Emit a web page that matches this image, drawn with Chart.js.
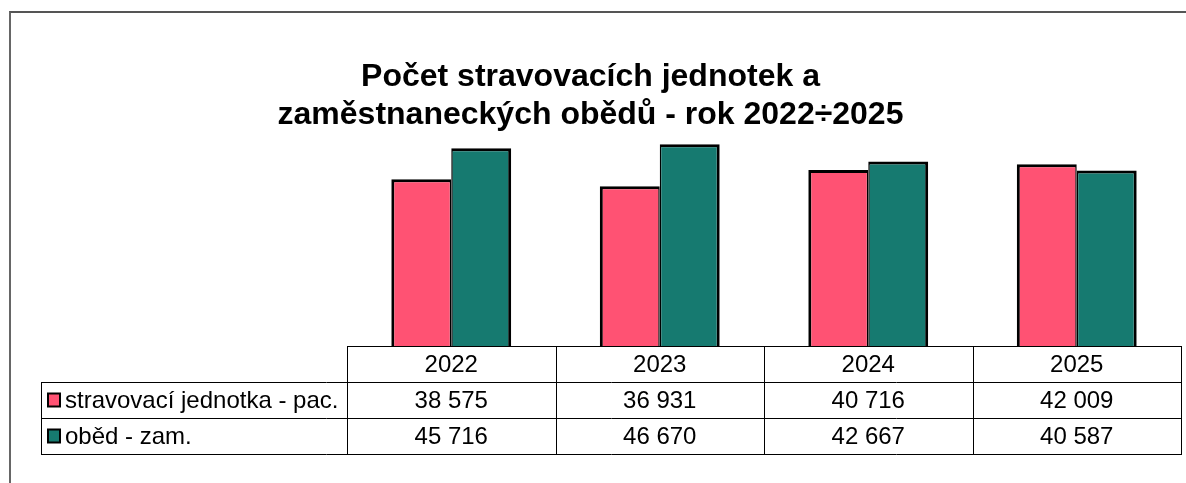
<!DOCTYPE html>
<html>
<head>
<meta charset="utf-8">
<script src="https://cdn.jsdelivr.net/npm/chart.js@4/dist/chart.umd.min.js"></script>
<style>
  html, body { margin: 0; padding: 0; overflow: hidden; background: #fff; width: 1186px; height: 483px; }
  #frame { position: absolute; left: 9px; top: 11px; width: 1300px; height: 600px;
           border-left: 2px solid #666; border-top: 2px solid #555; box-sizing: border-box; }
  #c { position: absolute; left: 0; top: 0; }
</style>
</head>
<body>
<div id="frame"></div>
<canvas id="c" width="1186" height="483"></canvas>
<script>
const categories = ['2022', '2023', '2024', '2025'];
const seriesNames = ['stravovací jednotka - pac.', 'oběd - zam.'];
const seriesPatients = [38575, 36931, 40716, 42009];
const seriesStaff = [45716, 46670, 42667, 40587];
const titleLines = ['Počet stravovacích jednotek a', 'zaměstnaneckých obědů - rok 2022÷2025'];
const colors = ['#FF5273', '#167A70'];

function fmt(v) {
  return String(v).replace(/\B(?=(\d{3})+(?!\d))/g, ' ');
}

const tablePlugin = {
  id: 'dataTable',
  afterDraw(chart) {
    const ctx = chart.ctx;
    const area = chart.chartArea;
    const xs = chart.scales.x;
    const n = categories.length;
    const colW = (area.right - area.left) / n;
    const rowH = 36;
    const legendLeft = 41;
    const top = Math.round(area.bottom);
    const L = Math.round(area.left) + 0.5;
    const R = Math.round(area.right) + 0.5;
    const datasets = [seriesPatients, seriesStaff];
    ctx.save();
    ctx.strokeStyle = '#000';
    ctx.lineWidth = 1;
    ctx.beginPath();
    ctx.moveTo(L, top + 0.5); ctx.lineTo(R, top + 0.5);
    for (let r = 1; r <= datasets.length + 1; r++) {
      const y = top + r * rowH + 0.5;
      ctx.moveTo(legendLeft + 0.5, y); ctx.lineTo(R, y);
    }
    for (let i = 0; i <= n; i++) {
      const x = Math.round(area.left + i * colW) + 0.5;
      ctx.moveTo(x, top); ctx.lineTo(x, top + (datasets.length + 1) * rowH + 1);
    }
    ctx.moveTo(legendLeft + 0.5, top + rowH); ctx.lineTo(legendLeft + 0.5, top + (datasets.length + 1) * rowH + 1);
    ctx.stroke();

    ctx.fillStyle = '#000';
    ctx.font = '24px "Liberation Sans", Arial, sans-serif';
    ctx.textAlign = 'center';
    ctx.textBaseline = 'middle';
    for (let i = 0; i < n; i++) {
      const cx = xs.getPixelForValue(i);
      ctx.fillText(categories[i], cx, top + rowH / 2 + 1);
      datasets.forEach((d, r) => {
        ctx.fillText(fmt(d[i]), cx, top + (r + 1) * rowH + rowH / 2 + 1);
      });
    }
    ctx.textAlign = 'left';
    seriesNames.forEach((name, r) => {
      const cy = top + (r + 1) * rowH + rowH / 2;
      ctx.fillStyle = colors[r];
      ctx.fillRect(48, cy - 6.5, 12, 13);
      ctx.strokeStyle = '#000';
      ctx.lineWidth = 2;
      ctx.strokeRect(48, cy - 6.5, 12, 13);
      ctx.fillStyle = '#000';
      ctx.fillText(name, 65, cy + 1);
    });
    ctx.restore();
  }
};

new Chart(document.getElementById('c'), {
  type: 'bar',
  data: {
    labels: categories,
    datasets: [
      { label: seriesNames[0], data: seriesPatients, backgroundColor: colors[0], borderColor: '#000',
        borderWidth: { left: 3, top: 3, right: 1.5, bottom: 0 } },
      { label: seriesNames[1], data: seriesStaff, backgroundColor: colors[1], borderColor: '#000',
        borderWidth: { left: 1.5, top: 3, right: 3, bottom: 0 } }
    ]
  },
  options: {
    responsive: false,
    animation: false,
    layout: { padding: { left: 0, right: 5, top: 0, bottom: 137 } },
    datasets: { bar: { categoryPercentage: 0.575, barPercentage: 1.0 } },
    scales: {
      x: { display: false, offset: true },
      y: {
        display: true, min: 0, max: 50000,
        ticks: { display: false },
        grid: { display: false },
        border: { display: false },
        afterFit(scale) { scale.width = 347; }
      }
    },
    plugins: {
      legend: { display: false },
      tooltip: { enabled: false },
      title: {
        display: true,
        text: titleLines,
        color: '#000',
        font: { family: '"Liberation Sans", Arial, sans-serif', size: 32, weight: 'bold', lineHeight: 1.2 },
        padding: { top: 58, bottom: -5 }
      }
    }
  },
  plugins: [tablePlugin]
});
</script>
</body>
</html>
